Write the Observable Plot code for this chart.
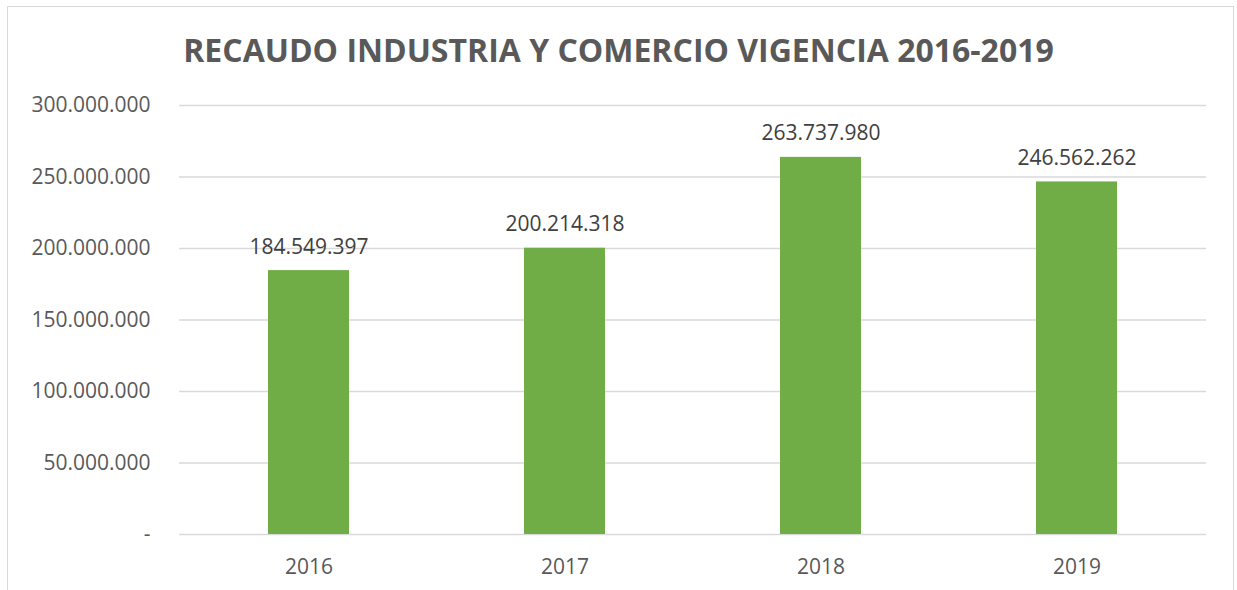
<!DOCTYPE html>
<html>
<head>
<meta charset="utf-8">
<script src="https://cdn.jsdelivr.net/npm/d3@7"></script>
<script src="https://cdn.jsdelivr.net/npm/@observablehq/plot@0.6"></script>
<style>
  html, body { margin: 0; padding: 0; background: #fff; }
  #frame { position: absolute; left: 7px; top: 6px; width: 1227px; height: 600px; border: 1.5px solid #d9d9d9; box-sizing: border-box; }
  #title { position: absolute; left: 0; top: 28px; width: 1237px; text-align: center; font-family: "Open Sans", sans-serif; font-weight: 700; font-size: 32px; color: #595959; line-height: 44px; }
  #chart { position: absolute; left: 0; top: 80px; }
</style>
</head>
<body>
<div id="frame"></div>
<div id="title">RECAUDO INDUSTRIA Y COMERCIO VIGENCIA 2016-2019</div>
<div id="chart"></div>
<script>
const years = ["2016", "2017", "2018", "2019"];
const values = [184549397, 200214318, 263737980, 246562262];
const yTicks = [0, 50000000, 100000000, 150000000, 200000000, 250000000, 300000000];

const data = years.map((y, i) => ({year: y, value: values[i]}));
const loc = d3.formatLocale({decimal: ",", thousands: ".", grouping: [3], currency: ["$", ""]});
const fmt = loc.format(",");
const tickFmt = d => d === 0 ? "-" : fmt(d);

const plot = Plot.plot({
  width: 1237,
  height: 510,
  marginTop: 25,
  marginBottom: 56,
  marginLeft: 179,
  marginRight: 31,
  style: {fontFamily: "'Open Sans', sans-serif", fontSize: "21px", color: "#595959", background: "transparent"},
  x: {domain: years, paddingInner: 0.685, paddingOuter: 0.3425, label: null, tickSize: 0, tickPadding: 25},
  y: {domain: [0, 300000000], ticks: yTicks, tickFormat: tickFmt, label: null, tickSize: 0, tickPadding: 29},
  marks: [
    Plot.gridY(yTicks, {stroke: "#d9d9d9", strokeOpacity: 1, strokeWidth: 1.5}),
    Plot.barY(data, {x: "year", y: "value", fill: "#70AD47"}),
    Plot.text(data, {x: "year", y: "value", text: d => fmt(d.value), lineAnchor: "bottom", dy: -17, fill: "#404040", fontSize: 21})
  ]
});
document.getElementById("chart").appendChild(plot);
</script>
</body>
</html>
